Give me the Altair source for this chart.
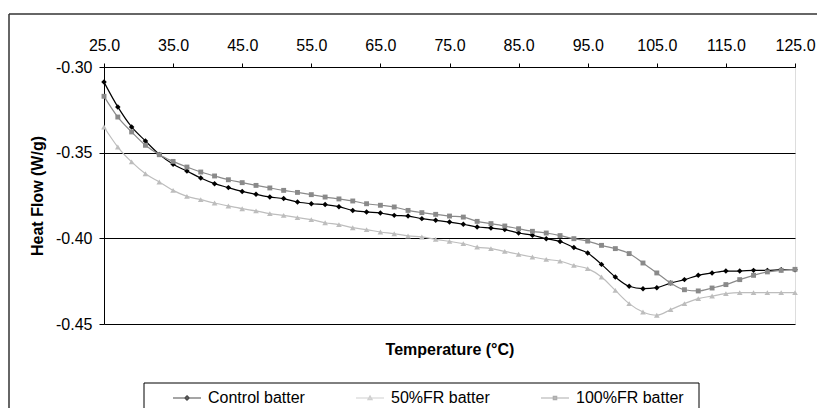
import altair as alt
import pandas as pd

temps = [25, 27, 29, 31, 33, 35, 37, 39, 41, 43, 45, 47, 49, 51, 53, 55, 57,
         59, 61, 63, 65, 67, 69, 71, 73, 75, 77, 79, 81, 83, 85, 87, 89, 91,
         93, 95, 97, 99, 101, 103, 105, 107, 109, 111, 113, 115, 117, 119, 121, 123, 125]

control = [-0.3088, -0.3233, -0.3350, -0.3432, -0.3510, -0.3568, -0.3607, -0.3648, -0.3681,
           -0.3704, -0.3726, -0.3743, -0.3759, -0.3768, -0.3788, -0.3798, -0.3803,
           -0.3815, -0.3837, -0.3846, -0.3852, -0.3866, -0.3870, -0.3885, -0.3895,
           -0.3905, -0.3918, -0.3934, -0.3940, -0.3949, -0.3969, -0.3982, -0.4002,
           -0.4018, -0.4054, -0.4086, -0.4152, -0.4226, -0.4280, -0.4294, -0.4288,
           -0.4261, -0.4241, -0.4216, -0.4202, -0.4191, -0.4191, -0.4187, -0.4187,
           -0.4183, -0.4183]

fr50 = [-0.3350, -0.3467, -0.3554, -0.3623, -0.3671, -0.3720, -0.3755, -0.3774, -0.3794,
        -0.3811, -0.3827, -0.3840, -0.3856, -0.3866, -0.3879, -0.3891, -0.3909,
        -0.3920, -0.3938, -0.3949, -0.3963, -0.3973, -0.3986, -0.3992, -0.4006,
        -0.4018, -0.4031, -0.4051, -0.4060, -0.4076, -0.4093, -0.4109, -0.4123,
        -0.4133, -0.4158, -0.4177, -0.4226, -0.4304, -0.4381, -0.4430, -0.4449,
        -0.4416, -0.4381, -0.4352, -0.4337, -0.4323, -0.4317, -0.4317, -0.4317,
        -0.4317, -0.4317]

fr100 = [-0.3171, -0.3292, -0.3379, -0.3457, -0.3512, -0.3551, -0.3584, -0.3613, -0.3636,
         -0.3658, -0.3675, -0.3691, -0.3706, -0.3720, -0.3732, -0.3745, -0.3759,
         -0.3770, -0.3782, -0.3798, -0.3807, -0.3817, -0.3837, -0.3850, -0.3860,
         -0.3870, -0.3876, -0.3901, -0.3914, -0.3928, -0.3944, -0.3959, -0.3969,
         -0.3984, -0.4002, -0.4016, -0.4041, -0.4060, -0.4089, -0.4144, -0.4202,
         -0.4261, -0.4300, -0.4307, -0.4290, -0.4270, -0.4241, -0.4216, -0.4196,
         -0.4187, -0.4181]

series_names = ["Control batter", "50%FR batter", "100%FR batter"]
series_colors = ["#000000", "#bdbdbd", "#8a8a8a"]
marker_shapes = ["diamond", "triangle-up", "square"]
marker_sizes = [30, 32, 24]
legend_paths = [
    "M-1,0H1M0,-0.16L0.16,0L0,0.16L-0.16,0Z",
    "M-1,0H1M0,-0.15L0.15,0.12L-0.15,0.12Z",
    "M-1,0H1M-0.12,-0.12H0.12V0.12H-0.12Z",
]
x_ticks = [25, 35, 45, 55, 65, 75, 85, 95, 105, 115, 125]
y_ticks = [-0.45, -0.40, -0.35, -0.30]
x_title = "Temperature (°C)"
y_title = "Heat Flow (W/g)"

rows = []
for name, vals in zip(series_names, [control, fr50, fr100]):
    for t, v in zip(temps, vals):
        rows.append({"series": name, "temp": t, "flow": v})
df = pd.DataFrame(rows)

FONT = "Liberation Sans"
x_scale = alt.Scale(domain=[25, 125], nice=False, zero=False)
y_scale = alt.Scale(domain=[-0.45, -0.30], nice=False, zero=False)

x_axis_top = alt.Axis(orient="top", values=x_ticks, format=".1f", title=None,
                      labelFont=FONT, labelFontSize=16, labelColor="#000",
                      tickColor="#000", tickSize=4, domainColor="#000",
                      labelPadding=10, grid=False, labelFlush=False)
x_axis_bottom = alt.Axis(orient="bottom", labels=False, ticks=False, domain=False,
                         grid=False, title=x_title, titleFont=FONT, titleFontSize=16,
                         titleFontWeight="bold", titleColor="#000", titlePadding=17)
y_axis = alt.Axis(orient="left", values=y_ticks,
                  labelExpr="replace(format(datum.value, '.2f'), '\u2212', '-')",
                  labelFont=FONT, labelFontSize=16, labelColor="#000",
                  tickColor="#000", tickSize=5, domainColor="#000",
                  labelPadding=7, grid=True, gridColor="#000", gridWidth=1,
                  title=y_title, titleFont=FONT, titleFontSize=16,
                  titleFontWeight="bold", titleColor="#000",
                  titleAngle=270, titleAlign="center", titleBaseline="middle",
                  titleX=-67, titleY=128.5)

layers = []
# axis-holder layers (invisible)
layers.append(alt.Chart(df).mark_line(opacity=0).encode(
    x=alt.X("temp:Q", scale=x_scale, axis=x_axis_top),
    y=alt.Y("flow:Q", scale=y_scale, axis=y_axis),
    detail="series:N"))
layers.append(alt.Chart(df).mark_line(opacity=0).encode(
    x=alt.X("temp:Q", scale=x_scale, axis=x_axis_bottom),
    y=alt.Y("flow:Q", scale=y_scale, axis=None),
    detail="series:N"))

base = alt.Chart(df).encode(
    x=alt.X("temp:Q", scale=x_scale, axis=None),
    y=alt.Y("flow:Q", scale=y_scale, axis=None))

for name, col, shp, sz in zip(series_names, series_colors, marker_shapes, marker_sizes):
    sub = base.transform_filter(alt.datum.series == name)
    layers.append(sub.mark_line(color=col, strokeWidth=1.2, interpolate="monotone"))
    layers.append(sub.mark_point(shape=shp, filled=True, color=col, size=sz, opacity=1))

legend_df = pd.DataFrame({"series": series_names})
leg_common = dict(orient="none", legendX=68, legendY=316, direction="horizontal",
                  title=None, padding=0, columnPadding=48, labelOffset=6,
                  labelFont=FONT, labelFontSize=16, labelColor="#000",
                  symbolSize=784, symbolStrokeWidth=1.2)
legend_layer = alt.Chart(legend_df).transform_filter("false").mark_point(
    filled=True, strokeWidth=1.2).encode(
    shape=alt.Shape("series:N", scale=alt.Scale(domain=series_names, range=legend_paths),
                    legend=alt.Legend(**leg_common)),
    fill=alt.Fill("series:N", scale=alt.Scale(domain=series_names, range=series_colors),
                  legend=alt.Legend(**leg_common)),
    stroke=alt.Stroke("series:N", scale=alt.Scale(domain=series_names, range=series_colors),
                      legend=alt.Legend(**leg_common)),
)

one = pd.DataFrame({"a": [0]})
frame_color = "#333333"
frame_left = alt.Chart(one).mark_rule(color=frame_color, strokeWidth=1.5).encode(
    x=alt.value(-95), y=alt.value(-53), y2=alt.value(400))
frame_top = alt.Chart(one).mark_rule(color=frame_color, strokeWidth=1.5).encode(
    x=alt.value(-95), x2=alt.value(800), y=alt.value(-53))
box_top = alt.Chart(one).mark_rule(color="#000", strokeWidth=1).encode(
    x=alt.value(40), x2=alt.value(595), y=alt.value(316))
box_left = alt.Chart(one).mark_rule(color="#000", strokeWidth=1).encode(
    x=alt.value(40), y=alt.value(316), y2=alt.value(400))
box_right = alt.Chart(one).mark_rule(color="#000", strokeWidth=1).encode(
    x=alt.value(595), y=alt.value(316), y2=alt.value(400))

chart = alt.layer(*layers, legend_layer, frame_left, frame_top, box_top, box_left, box_right).resolve_axis(
    x="independent", y="independent"
).properties(
    width=691, height=257,
    autosize=alt.AutoSizeParams(type="none"),
    padding={"left": 104, "top": 67, "right": 22, "bottom": 84},
).configure_view(stroke=None).configure(background="white")

chart.save("out.html", embed_options={"renderer": "svg", "actions": False})
